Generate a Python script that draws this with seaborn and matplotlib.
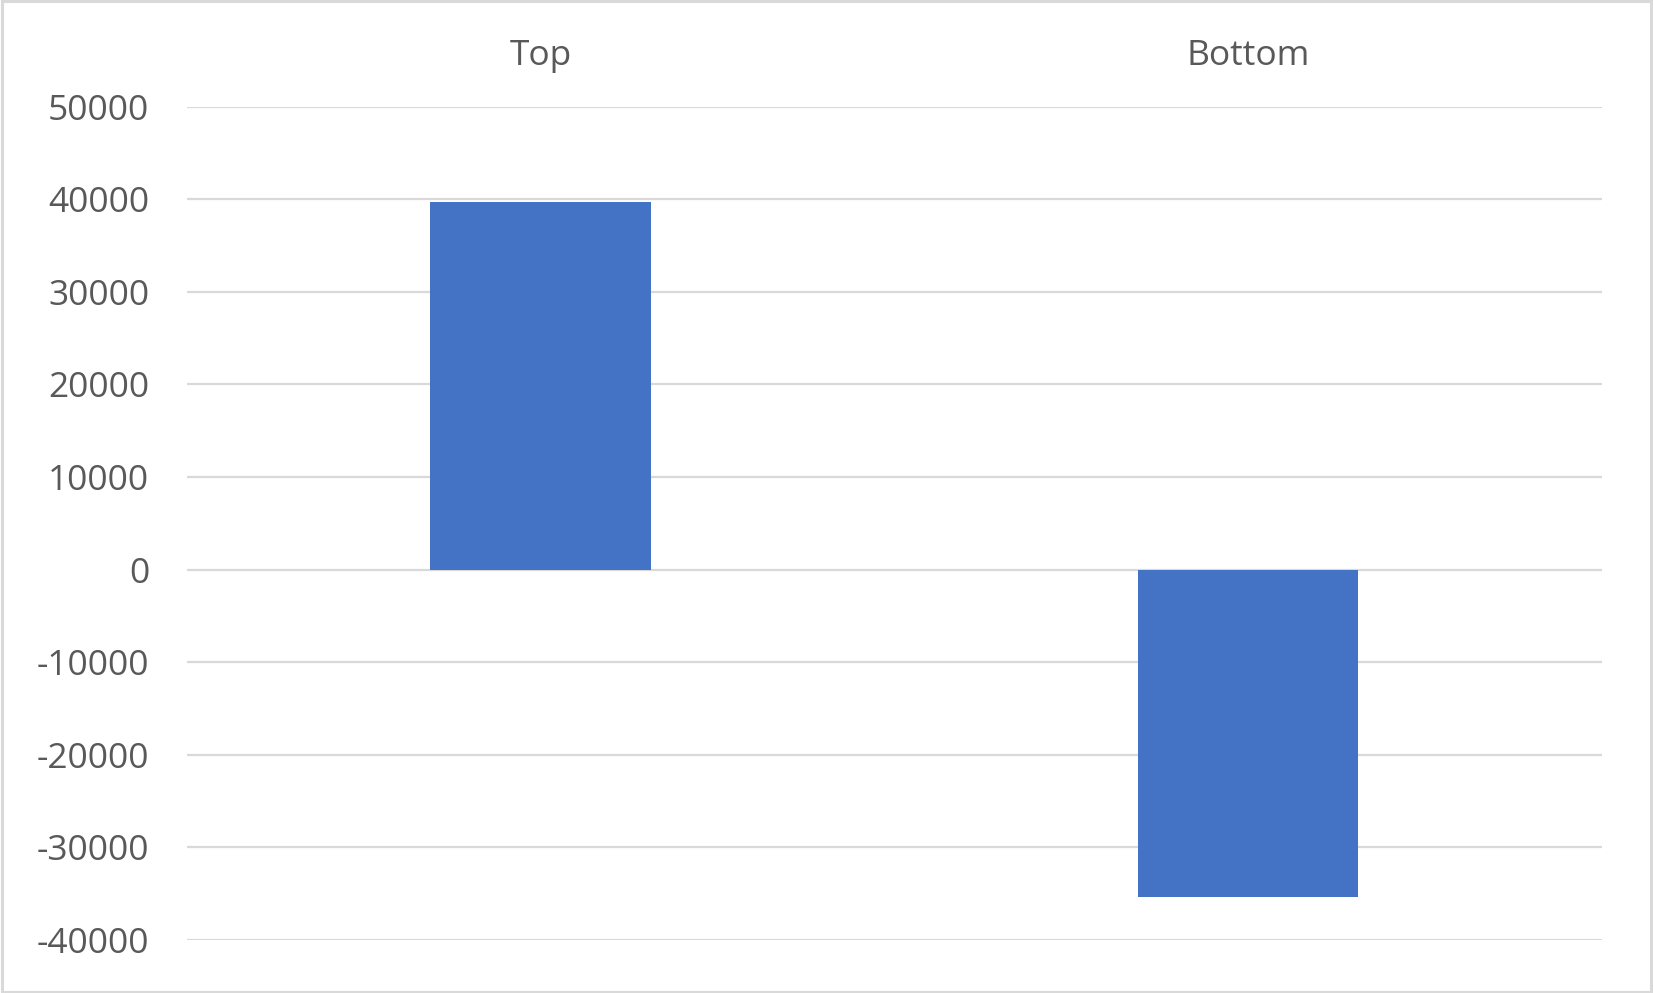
import matplotlib
matplotlib.use("Agg")
import matplotlib.pyplot as plt
import seaborn as sns
import pandas as pd
from matplotlib.patches import Rectangle

# valores
categorias = ["Top", "Bottom"]
valores = [39650, -35400]
ticks_y = [-40000, -30000, -20000, -10000, 0, 10000, 20000, 30000, 40000, 50000]

sns.set_theme(style="white")
plt.rcParams['font.family'] = ['Open Sans', 'DejaVu Sans']

df = pd.DataFrame({"categoria": categorias, "valor": valores})

fig = plt.figure(figsize=(16.53, 9.93), dpi=100)
ax = fig.add_axes([0.1129, 0.0534, 0.9690 - 0.1129, 0.8927 - 0.0534])

sns.barplot(data=df, x="categoria", y="valor", color="#4472C4", saturation=1,
            width=0.312, linewidth=0, ax=ax, zorder=3)

ax.set_ylim(-40000, 50000)
ax.set_xlim(-0.5, 1.5)
ax.set_yticks(ticks_y)
ax.set_yticklabels([str(t) for t in ticks_y])
ax.yaxis.grid(True, color="#D9D9D9", linewidth=1.6, zorder=0)
ax.xaxis.grid(False)
for s in ax.spines.values():
    s.set_visible(False)

ax.xaxis.tick_top()
ax.tick_params(axis="x", length=0, pad=24, labelsize=25.5, labelcolor="#595959")
ax.tick_params(axis="y", length=0, pad=27, labelsize=25.5, labelcolor="#595959")
ax.set_xlabel("")
ax.set_ylabel("")

# borda da figura
fig.patches.append(Rectangle((0.001, 0.0015), 0.998, 0.997, transform=fig.transFigure,
                             fill=False, edgecolor="#D9D9D9", linewidth=2.2))

fig.savefig("out.png", dpi=100)
